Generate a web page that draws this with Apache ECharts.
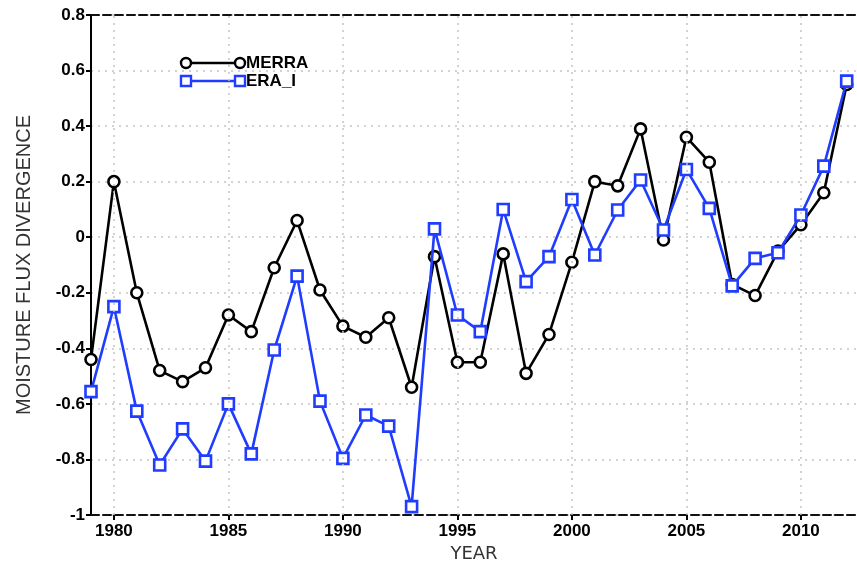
<!DOCTYPE html>
<html>
<head>
<meta charset="utf-8">
<script src="https://cdn.jsdelivr.net/npm/echarts@6/dist/echarts.min.js"></script>
<style>html,body{margin:0;padding:0;background:#fff}#c{width:857px;height:564px}</style>
</head>
<body>
<div id="c"></div>
<script>
var years = [1979,1980,1981,1982,1983,1984,1985,1986,1987,1988,1989,1990,1991,1992,1993,1994,1995,1996,1997,1998,1999,2000,2001,2002,2003,2004,2005,2006,2007,2008,2009,2010,2011,2012];
var merra = [-0.44,0.20,-0.20,-0.48,-0.52,-0.47,-0.28,-0.34,-0.11,0.06,-0.19,-0.32,-0.36,-0.29,-0.54,-0.07,-0.45,-0.45,-0.06,-0.49,-0.35,-0.09,0.20,0.185,0.39,-0.01,0.36,0.27,-0.17,-0.21,-0.05,0.045,0.16,0.55];
var eraI = [-0.556,-0.25,-0.626,-0.82,-0.69,-0.806,-0.60,-0.78,-0.406,-0.14,-0.59,-0.796,-0.64,-0.68,-0.97,0.03,-0.28,-0.34,0.10,-0.16,-0.07,0.136,-0.064,0.098,0.206,0.026,0.244,0.104,-0.175,-0.076,-0.056,0.08,0.256,0.562];
var yearTicks = [1980,1985,1990,1995,2000,2005,2010];
var seriesNames = ['MERRA','ERA_I'];

var blue = '#1f3cff';
function pairs(v){ return years.map(function(y,i){ return [y, v[i]]; }); }

var chart = echarts.init(document.getElementById('c'), null, {renderer:'canvas'});
var tickFont = {fontFamily:'Liberation Sans, Arial, sans-serif', fontWeight:'bold', fontSize:17, color:'#000'};

chart.setOption({
  animation:false,
  backgroundColor:'#fff',
  grid:{left:91, right:0, top:15, bottom:49, containLabel:false, outerBoundsMode:'none'},
  xAxis:[{
    type:'value', min:1979, max:2012.45,
    name:'YEAR', nameLocation:'middle', nameGap:29,
    nameTextStyle:{fontFamily:'DejaVu Sans, sans-serif', fontSize:18, color:'#333'},
    axisLine:{show:true, onZero:false, lineStyle:{color:'#111', width:2, type:'dashed'}},
    axisTick:{show:true, customValues:yearTicks, length:5, lineStyle:{color:'#000', width:2}},
    axisLabel:Object.assign({customValues:yearTicks, margin:8, formatter:function(v){return String(v);}}, tickFont),
    splitLine:{show:false}
  },{
    type:'value', min:1979, max:2012.45, position:'top',
    axisLine:{show:true, onZero:false, lineStyle:{color:'#111', width:2, type:'dashed'}},
    axisTick:{show:false}, axisLabel:{show:false}, splitLine:{show:false}
  }],
  yAxis:{
    type:'value', min:-1, max:0.8, interval:0.2,
    name:'MOISTURE FLUX DIVERGENCE', nameLocation:'middle', nameGap:57,
    nameTextStyle:{fontFamily:'Liberation Sans, Arial, sans-serif', fontSize:20, color:'#333'},
    axisLine:{show:true, onZero:false, lineStyle:{color:'#000', width:2}},
    axisTick:{show:true, length:5, lineStyle:{color:'#000', width:2}},
    axisLabel:Object.assign({margin:6, formatter:function(v){ var r=Math.round(v*10)/10; return r===0?'0':String(r);} }, tickFont),
    splitLine:{show:true, lineStyle:{color:'#c4c4c4', type:[2,5], width:1.5}}
  },
  series:[{
    type:'line', name:'grid', data:[], silent:true,
    markLine:{silent:true, symbol:'none', label:{show:false},
      lineStyle:{color:'#c4c4c4', type:[2,5], width:1.5},
      data:yearTicks.map(function(y){return {xAxis:y};})}
  },{
    type:'line', name:seriesNames[0], data:pairs(merra), z:3,
    symbol:'circle', symbolSize:11, showAllSymbol:true,
    lineStyle:{color:'#000', width:2.6},
    itemStyle:{color:'#fff', borderColor:'#000', borderWidth:2.6}
  },{
    type:'line', name:seriesNames[1], data:pairs(eraI), z:4,
    symbol:'rect', symbolSize:11, showAllSymbol:true,
    lineStyle:{color:blue, width:2.6},
    itemStyle:{color:'#fff', borderColor:blue, borderWidth:2.6}
  }],
  graphic:[
    {type:'line', shape:{x1:186,y1:63,x2:240,y2:63}, style:{stroke:'#000', lineWidth:2.4}},
    {type:'circle', shape:{cx:186,cy:63,r:5}, style:{fill:'#fff', stroke:'#000', lineWidth:2.4}},
    {type:'circle', shape:{cx:240,cy:63,r:5}, style:{fill:'#fff', stroke:'#000', lineWidth:2.4}},
    {type:'text', left:246, top:55, style:{text:seriesNames[0], fontFamily:'Liberation Sans, Arial, sans-serif', fontWeight:'bold', fontSize:17, fill:'#000'}},
    {type:'line', shape:{x1:186,y1:81,x2:240,y2:81}, style:{stroke:blue, lineWidth:2.4}},
    {type:'rect', shape:{x:181,y:76,width:10,height:10}, style:{fill:'#fff', stroke:blue, lineWidth:2.4}},
    {type:'rect', shape:{x:235,y:76,width:10,height:10}, style:{fill:'#fff', stroke:blue, lineWidth:2.4}},
    {type:'text', left:246, top:73, style:{text:seriesNames[1], fontFamily:'Liberation Sans, Arial, sans-serif', fontWeight:'bold', fontSize:17, fill:'#000'}}
  ]
});
</script>
</body>
</html>
